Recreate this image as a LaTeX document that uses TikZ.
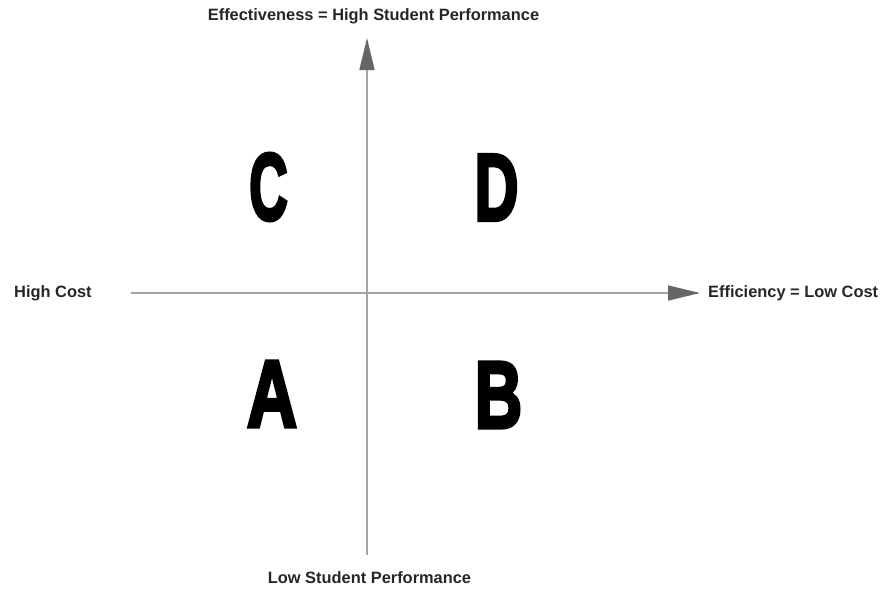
\documentclass[tikz,border=0pt]{standalone}
\usepackage{fontspec}
\setmainfont{Liberation Sans}
\newfontfamily\heavyfont[FakeBold=4]{Liberation Sans}
\usepackage{xcolor}
\usetikzlibrary{arrows.meta,positioning}
\definecolor{axisgray}{HTML}{A4A4A4}
\definecolor{tipgray}{HTML}{666666}
\newcommand{\quadletter}[2]{\scalebox{#1}[1]{\heavyfont\fontsize{95}{95}\selectfont\bfseries #2}}

\begin{document}
\begin{tikzpicture}[x=1pt,y=-1pt]
    \tikzstyle{every node}+=[inner sep=0pt]
    \tikzstyle{axislabel}=[font=\fontsize{16.4}{18}\selectfont\bfseries, text=black!85]
    \tikzstyle{axis}=[axisgray, line width=1.7pt, -{Triangle[length=32pt,width=15pt,color=tipgray]}]
    \useasboundingbox (0,0) rectangle (883,589);
    \coordinate (ybot) at (367,555);
    \coordinate (ytop) at (367,38);
    \coordinate (xleft) at (131,293);
    \coordinate (xright) at (700,293);
    \draw [axis] (ybot) -- (ytop);
    \draw [axis] (xleft) -- (xright);
    \node [axislabel, anchor=base] (effect) at (373.5,20) {Effectiveness = High Student Performance};
    \node [axislabel, anchor=base] (lowperf) at (369.5,583) {Low Student Performance};
    \node [axislabel, anchor=base west] (highcost) at (14,297) {High Cost};
    \node [axislabel, anchor=base west] (effic) at (708,297) {Efficiency = Low Cost};
    \node (qc) at (268.5,187) {\quadletter{0.56}{C}};
    \node (qd) at (496.5,187.5) {\quadletter{0.64}{D}};
    \node (qa) at (272,394) {\quadletter{0.73}{A}};
    \node (qb) at (498.5,395) {\quadletter{0.69}{B}};
\end{tikzpicture}
\end{document}
